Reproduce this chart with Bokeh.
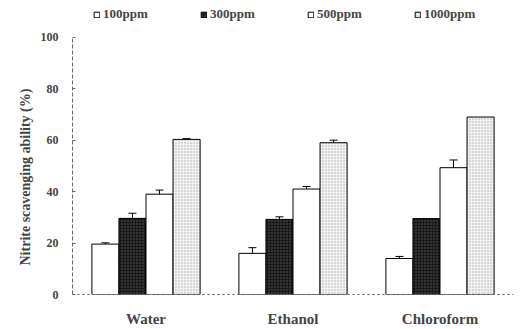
import math
from bokeh.plotting import figure
from bokeh.models import (ColumnDataSource, Whisker, TeeHead, Legend, LegendItem,
                          FactorRange, Title)
from bokeh.transform import dodge
from bokeh.embed import file_html
from bokeh.resources import INLINE

solvents = ["Water", "Ethanol", "Chloroform"]
series = ["100ppm", "300ppm", "500ppm", "1000ppm"]
values = {
    "100ppm": [19.6, 16.0, 14.0],
    "300ppm": [29.6, 29.2, 29.5],
    "500ppm": [39.0, 41.0, 49.3],
    "1000ppm": [60.3, 59.0, 69.0],
}
errors = {
    "100ppm": [0.5, 2.2, 0.8],
    "300ppm": [2.0, 1.0, 0.0],
    "500ppm": [1.6, 1.0, 3.0],
    "1000ppm": [0.3, 1.0, 0.0],
}
y_ticks = [0, 20, 40, 60, 80, 100]
y_title = "Nitrite scavenging ability (%)"

fills = {"100ppm": "white", "300ppm": "#181818", "500ppm": "white", "1000ppm": "#f3f3f3"}
hatch = {"100ppm": None, "300ppm": "dot", "500ppm": None, "1000ppm": "dot"}
hatch_col = {"100ppm": "black", "300ppm": "#606060", "500ppm": "black", "1000ppm": "#aaaaaa"}
offsets = [-0.276, -0.092, 0.092, 0.276]
FONT = "Liberation Serif"

# frame spans the full height above the baseline so the legend (drawn in the frame) is visible;
# the y axis itself is bounded to 0..100
p = figure(width=520, height=329, x_range=FactorRange(*solvents, range_padding=0),
           y_range=(0, 114.3), output_backend="svg", toolbar_location=None,
           min_border_left=72, min_border_right=7, min_border_top=0, min_border_bottom=33)
p.x_range.range_padding = 0
p.outline_line_color = None
p.grid.grid_line_color = None
p.background_fill_color = "white"

items = []
for s, off in zip(series, offsets):
    src = ColumnDataSource(dict(cat=solvents, val=values[s]))
    kw = {}
    if hatch[s]:
        kw = dict(hatch_pattern=hatch[s], hatch_color=hatch_col[s], hatch_scale=3, hatch_weight=1)
    r = p.vbar(x=dodge("cat", off, range=p.x_range), top="val", width=0.184, source=src,
               fill_color=fills[s], line_color="black", line_width=1, **kw)
    items.append(LegendItem(label=s, renderers=[r]))
    keep = [i for i, e in enumerate(errors[s]) if e > 0]
    esrc = ColumnDataSource(dict(
        cat=[solvents[i] for i in keep],
        upper=[values[s][i] + errors[s][i] for i in keep],
        lower=[values[s][i] - errors[s][i] for i in keep],
    ))
    w = Whisker(base=dodge("cat", off, range=p.x_range), upper="upper", lower="lower",
                source=esrc, line_color="black", line_width=1,
                upper_head=TeeHead(size=8, line_color="black", line_width=1),
                lower_head=TeeHead(size=8, line_color="black", line_width=1))
    p.add_layout(w)

legend = Legend(items=items, orientation="horizontal", location=(21, 272),
                label_text_font=FONT, label_text_font_style="bold", label_text_font_size="13px",
                glyph_width=7, glyph_height=7, label_width=97, label_height=12,
                label_standoff=3, spacing=0, padding=0, margin=0,
                border_line_color=None, background_fill_alpha=0)
p.add_layout(legend, "center")

ytitle = Title(text=y_title, align="left", offset=29,
               text_font=FONT, text_font_style="bold", text_font_size="14px")
p.add_layout(ytitle, "left")

p.yaxis.bounds = (0, 100)
p.yaxis.ticker = y_ticks
p.yaxis.major_label_text_font = FONT
p.yaxis.major_label_text_font_style = "bold"
p.yaxis.major_label_text_font_size = "12px"
p.yaxis.major_label_standoff = 14
p.yaxis.major_tick_in = 3
p.yaxis.major_tick_out = 0
p.yaxis.minor_tick_line_color = None
p.yaxis.axis_line_color = "#666666"
p.yaxis.axis_line_dash = "4 2"
p.yaxis.major_tick_line_color = "#666666"

p.xaxis.major_label_text_font = FONT
p.xaxis.major_label_text_font_style = "bold"
p.xaxis.major_label_text_font_size = "15px"
p.xaxis.major_label_standoff = 16
p.xaxis.major_tick_in = 0
p.xaxis.major_tick_out = 0
p.xaxis.major_tick_line_color = None
p.xaxis.axis_line_color = "#555555"
p.xaxis.axis_line_dash = "2 3"

open("out.html", "w").write(file_html(p, INLINE))
